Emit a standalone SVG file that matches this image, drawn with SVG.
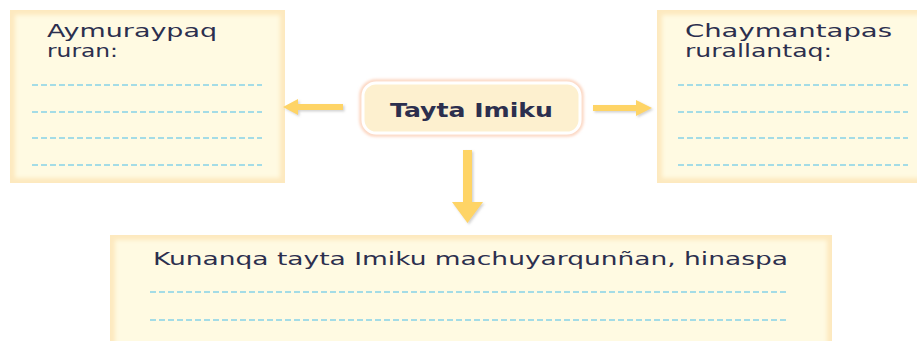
<svg xmlns="http://www.w3.org/2000/svg" width="917" height="341" viewBox="0 0 917 341">
  <style>
    .box-out { fill: #fde9bf; }
    .box-in { fill: #fffae2; filter: url(#soft); }
    .dash { stroke: #86d2e8; stroke-width: 1.5; stroke-dasharray: 6 3; fill: none; }
    .txt { font-family: "DejaVu Sans", "Liberation Sans", sans-serif; font-size: 17px; fill: #2c2f4e; }
    .title { font-family: "DejaVu Sans", "Liberation Sans", sans-serif; font-size: 20px; font-weight: bold; fill: #2c2f4e; }
    .arrow { fill: #fed466; filter: url(#shadow); }
  </style>
  <defs>
    <filter id="soft" x="-5%" y="-5%" width="110%" height="110%">
      <feGaussianBlur stdDeviation="2"/>
    </filter>
    <filter id="shadow" x="-30%" y="-30%" width="160%" height="160%">
      <feDropShadow dx="1.5" dy="1.5" stdDeviation="1" flood-color="#9a9a9a" flood-opacity="0.45"/>
    </filter>
    <filter id="glow" x="-10%" y="-20%" width="120%" height="140%">
      <feGaussianBlur stdDeviation="1.5"/>
    </filter>
  </defs>
  <rect width="917" height="341" fill="#ffffff"/>

  <g id="left-box">
    <rect class="box-out" x="10" y="10" width="275" height="173"/>
    <rect class="box-in" x="15" y="15" width="265" height="163"/>
    <text class="txt" x="47" y="37" textLength="170" lengthAdjust="spacingAndGlyphs">Aymuraypaq</text>
    <text class="txt" x="47" y="57" textLength="71" lengthAdjust="spacingAndGlyphs">ruran:</text>
    <line class="dash" x1="32" y1="85" x2="262" y2="85"/>
    <line class="dash" x1="32" y1="112" x2="262" y2="112"/>
    <line class="dash" x1="32" y1="138" x2="262" y2="138"/>
    <line class="dash" x1="32" y1="165" x2="262" y2="165"/>
  </g>

  <g id="right-box">
    <rect class="box-out" x="657" y="10" width="265" height="173"/>
    <rect class="box-in" x="662" y="15" width="260" height="163"/>
    <text class="txt" x="685" y="37" textLength="207" lengthAdjust="spacingAndGlyphs">Chaymantapas</text>
    <text class="txt" x="685" y="57" textLength="147" lengthAdjust="spacingAndGlyphs">rurallantaq:</text>
    <line class="dash" x1="678" y1="85" x2="908" y2="85"/>
    <line class="dash" x1="678" y1="112" x2="908" y2="112"/>
    <line class="dash" x1="678" y1="138" x2="908" y2="138"/>
    <line class="dash" x1="678" y1="165" x2="908" y2="165"/>
  </g>

  <g id="center-node">
    <rect x="361" y="81" width="221" height="54" rx="15" fill="none" stroke="#fbcdb4" stroke-width="3" filter="url(#glow)"/>
    <rect x="363" y="83" width="217" height="50" rx="13" fill="#fdf0cf" stroke="#ffffff" stroke-width="3"/>
    <text class="title" x="390" y="117" textLength="163" lengthAdjust="spacingAndGlyphs">Tayta Imiku</text>
  </g>

  <g id="bottom-box">
    <rect class="box-out" x="110" y="235" width="722" height="110"/>
    <rect class="box-in" x="115" y="240" width="712" height="105"/>
    <text class="txt" x="153" y="265" textLength="635" lengthAdjust="spacingAndGlyphs">Kunanqa tayta Imiku machuyarqunñan, hinaspa</text>
    <line class="dash" x1="150" y1="292" x2="786" y2="292"/>
    <line class="dash" x1="150" y1="320" x2="786" y2="320"/>
  </g>

  <g id="connectors">
    <path class="arrow" d="M343,104 L298,104 L298,99 L283,107 L298,115 L298,110 L343,110 Z"/>
    <path class="arrow" d="M593,105 L636,105 L636,100 L652,108 L636,116 L636,111 L593,111 Z"/>
    <path class="arrow" d="M463,150 L472,150 L472,202 L483,202 L467.5,223 L452,202 L463,202 Z"/>
  </g>
</svg>
